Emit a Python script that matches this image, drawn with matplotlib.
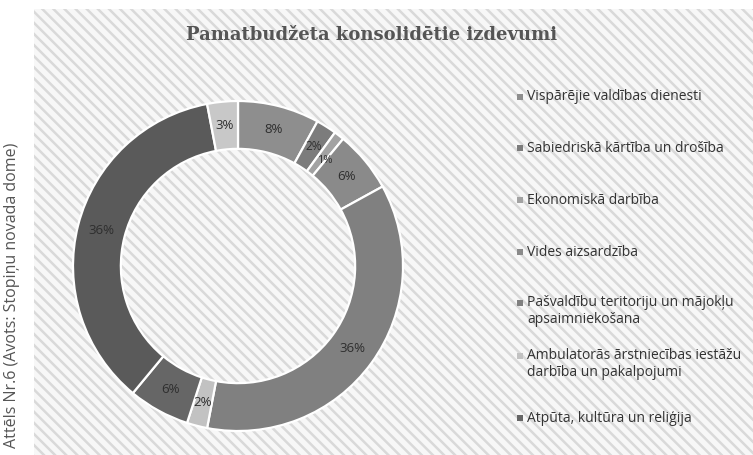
import matplotlib.pyplot as plt
from matplotlib.patches import Rectangle

# data
categories = [
    "Vispārējie valdības dienesti",
    "Sabiedriskā kārtība un drošība",
    "Ekonomiskā darbība",
    "Vides aizsardzība",
    "Pašvaldību teritoriju un mājokļu\napsaimniekošana",
    "Ambulatorās ārstniecības iestāžu\ndarbība un pakalpojumi",
    "Atpūta, kultūra un reliģija",
    "Izglītība",
    "Sociālā aizsardzība",
]
shares = [8, 2, 1, 6, 36, 2, 6, 36, 3]
colors = ["#8e8e8e", "#7c7c7c", "#a2a2a2", "#8a8a8a", "#808080",
          "#c2c2c2", "#666666", "#5a5a5a", "#c8c8c8"]
# only the first seven legend entries fit in the picture
legend_y = [97, 148, 200, 252, 311, 364, 418]

W, H = 753, 455
fig = plt.figure(figsize=(W / 100, H / 100), dpi=100)
fig.patch.set_facecolor("white")

# hatched chart area
plt.rcParams["hatch.linewidth"] = 1.8
bg = Rectangle((34 / W, 0), 1 - 34 / W, 1 - 9 / H, transform=fig.transFigure,
               facecolor="#f7f7f7", edgecolor="#d9d9d9", linewidth=0,
               hatch="\\\\\\", zorder=0)
fig.add_artist(bg)

# donut
cx, cy, r = 238, 266, 165
half = 170
ax = fig.add_axes([(cx - half) / W, (H - cy - half) / H, 2 * half / W, 2 * half / H])
ax.set_facecolor("none")
wedges, texts, autotexts = ax.pie(
    shares, colors=colors, startangle=90, counterclock=False,
    autopct="%d%%", pctdistance=0.855,
    wedgeprops=dict(width=0.29, edgecolor="white", linewidth=1.6),
    textprops=dict(color="#2e2e2e", fontsize=9.5, family="Open Sans"),
)
# the two thin neighbouring slices (2% and 1%) get smaller labels
autotexts[1].set_fontsize(8.5)
autotexts[2].set_fontsize(8)
autotexts[2].set_va("top")
lim = half / r
ax.set_xlim(-lim, lim)
ax.set_ylim(-lim, lim)
ax.set_aspect("equal")
ax.axis("off")

# title
fig.text(372 / W, 1 - 35 / H, "Pamatbudžeta konsolidētie izdevumi",
         ha="center", va="center", fontsize=13, fontweight="bold",
         family="DejaVu Serif", color="#555555")

# legend
for lab, col, y in zip(categories, colors, legend_y):
    n = lab.count("\n")
    ytop = y - n * 8
    fig.add_artist(Rectangle((517 / W, 1 - (ytop + 3) / H), 6 / W, 6 / H,
                             transform=fig.transFigure, facecolor=col,
                             edgecolor="none"))
    fig.text(527 / W, 1 - y / H, lab, ha="left", va="center", fontsize=10,
             family="Open Sans", color="#333333", linespacing=1.15)

# side caption
fig.text(12 / W, 1 - 295 / H, "Attēls Nr.6 (Avots: Stopiņu novada dome)",
         rotation=90, ha="center", va="center", fontsize=11.5,
         family="Open Sans", color="#555555")

fig.savefig("out.png", dpi=100)
